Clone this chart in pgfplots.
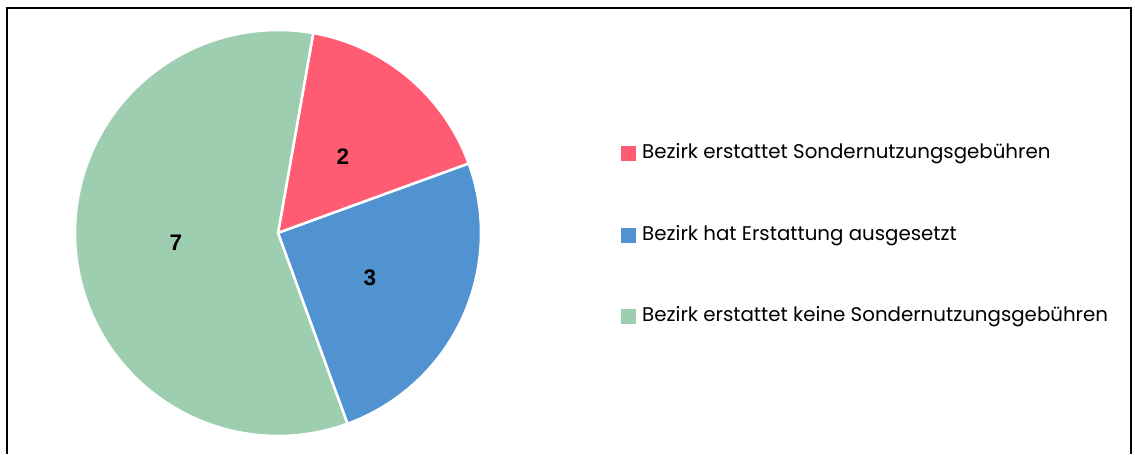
\documentclass[border=0pt]{standalone}
\usepackage{pgfplots}
\pgfplotsset{compat=1.18}
\usepackage{fontspec}
\setmainfont{Poppins}
\newfontfamily\numfont{Liberation Sans}
\definecolor{cred}{HTML}{FF5B73}
\definecolor{cblue}{HTML}{5192D0}
\definecolor{cgreen}{HTML}{9DCEB0}
\begin{document}
\begin{tikzpicture}
\begin{axis}[
  width=1135pt, height=454pt, scale only axis,
  xmin=0, xmax=1135, ymin=0, ymax=454,
  hide axis, clip=false,
]
\path (axis cs:0,0) (axis cs:1135,454);
% pie: values 2, 3, 7 of 12, start at 80 deg, clockwise
\addplot[fill=cred, draw=white, line width=2.5pt, domain=20:80, samples=60]
  ({278+203*cos(x)},{221+203*sin(x)}) -- (axis cs:278,221) -- cycle;
\addplot[fill=cblue, draw=white, line width=2.5pt, domain=-70:20, samples=80]
  ({278+203*cos(x)},{221+203*sin(x)}) -- (axis cs:278,221) -- cycle;
\addplot[fill=cgreen, draw=white, line width=2.5pt, domain=-280:-70, samples=160]
  ({278+203*cos(x)},{221+203*sin(x)}) -- (axis cs:278,221) -- cycle;
% values
\node[font=\numfont\bfseries\fontsize{22.5}{22.5}\selectfont] at (axis cs:343,297) {2};
\node[font=\numfont\bfseries\fontsize{22.5}{22.5}\selectfont] at (axis cs:370,176) {3};
\node[font=\numfont\bfseries\fontsize{22.5}{22.5}\selectfont] at (axis cs:176,211) {7};
% legend
\addplot[fill=cred, draw=none] coordinates {(621,293) (636,293) (636,308) (621,308)} -- cycle;
\addplot[fill=cblue, draw=none] coordinates {(621,211) (636,211) (636,226) (621,226)} -- cycle;
\addplot[fill=cgreen, draw=none] coordinates {(621,130) (636,130) (636,145) (621,145)} -- cycle;
\node[anchor=west, inner sep=0pt, font=\fontsize{19.8}{19.8}\selectfont] at (axis cs:642,300) {Bezirk erstattet Sondernutzungsgebühren};
\node[anchor=west, inner sep=0pt, font=\fontsize{19.8}{19.8}\selectfont] at (axis cs:642,218) {Bezirk hat Erstattung ausgesetzt};
\node[anchor=west, inner sep=0pt, font=\fontsize{19.8}{19.8}\selectfont] at (axis cs:642,137) {Bezirk erstattet keine Sondernutzungsgebühren};
% frame
\draw[black, line width=2pt] (axis cs:7,0) -- (axis cs:7,446) -- (axis cs:1131,446) -- (axis cs:1131,0);
\end{axis}
\end{tikzpicture}
\end{document}
